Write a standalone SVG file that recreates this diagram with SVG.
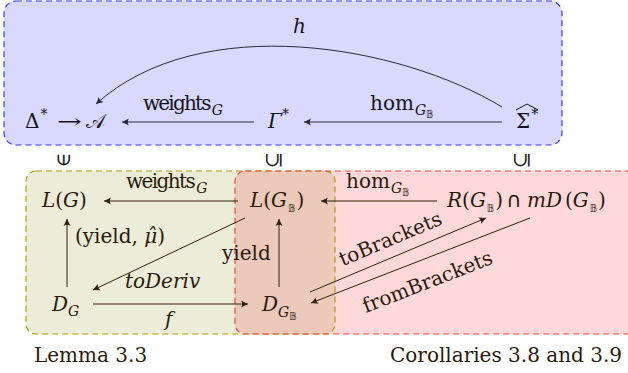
<svg xmlns="http://www.w3.org/2000/svg" width="628" height="373" viewBox="0 0 628 373">
  <style>
    text { font-family: "DejaVu Serif", "DejaVu Sans", serif; font-size: 20px; }
    .top { fill: #141420; }
    .bot { fill: #2a1a0c; }
    .it { font-style: italic; }
    .sub { font-size: 14px; font-style: italic; }
    .bb { font-size: 10px; font-family: "DejaVu Sans", "DejaVu Serif", sans-serif; font-style: normal; }
    .sup { font-size: 14px; font-style: normal; }
    .cap { font-family: "DejaVu Sans", sans-serif; font-size: 21px; }
    .rel { font-family: "DejaVu Sans", sans-serif; font-size: 18px; fill: #222; }
    .edge-top { fill: none; stroke: #2a2a3a; stroke-width: 1; }
    .edge-bot { fill: none; stroke: #33210f; stroke-width: 1; }
  </style>
  <defs>
    <marker id="ah-top" viewBox="-8 -4 9 8" refX="0" refY="0" markerWidth="9" markerHeight="8" markerUnits="userSpaceOnUse" orient="auto">
      <path d="M0,0 L-7,-3.5 Q-4.5,0 -7,3.5 Z" fill="#2a2a3a"/>
    </marker>
    <marker id="ah-bot" viewBox="-8 -4 9 8" refX="0" refY="0" markerWidth="9" markerHeight="8" markerUnits="userSpaceOnUse" orient="auto">
      <path d="M0,0 L-7,-3.5 Q-4.5,0 -7,3.5 Z" fill="#33210f"/>
    </marker>
    <clipPath id="olive-clip">
      <rect x="26" y="171" width="309" height="163" rx="10"/>
    </clipPath>
  </defs>

  <!-- regions -->
  <g id="region-types">
    <rect x="4" y="1" width="558" height="144" rx="12" fill="#d9d9ff" stroke="#3b3bff" stroke-width="1.2" stroke-dasharray="6 4"/>
  </g>
  <g id="region-lemma-fill">
    <rect x="26" y="171" width="309" height="163" rx="10" fill="#ececd9"/>
  </g>
  <g id="region-corollaries-fill">
    <rect x="235" y="171" width="420" height="163" rx="10" fill="#ffd9d9"/>
    <rect x="235" y="171" width="420" height="163" rx="10" fill="#ecc9b9" clip-path="url(#olive-clip)"/>
  </g>
  <g id="region-borders">
    <rect x="26" y="171" width="309" height="163" rx="10" fill="none" stroke="#a89f00" stroke-width="1.2" stroke-dasharray="6 4"/>
    <rect x="235" y="171" width="420" height="163" rx="10" fill="none" stroke="#ff4040" stroke-width="1.2" stroke-dasharray="6 4"/>
  </g>

  <!-- nodes: top row -->
  <g id="node-weightfun" class="top">
    <text x="25" y="128">Δ<tspan class="sup" dx="1" dy="-9">*</tspan></text>
    <text x="57" y="128" font-family="DejaVu Sans" textLength="25" lengthAdjust="spacingAndGlyphs">→</text>
    <text x="86" y="128">𝒜</text>
  </g>
  <g id="node-gamma" class="top">
    <text x="268" y="128" class="it">Γ<tspan class="sup" dy="-9">*</tspan></text>
  </g>
  <g id="node-sigma" class="top">
    <text x="516" y="128">Σ<tspan class="sup" dx="1" dy="-9">*</tspan></text>
    <path d="M516,110 L527,104 L538,110" fill="none" stroke="#141420" stroke-width="1"/>
  </g>

  <!-- nodes: lower part -->
  <g id="node-LG" class="bot">
    <text x="42" y="207"><tspan class="it">L</tspan>(<tspan class="it">G</tspan>)</text>
  </g>
  <g id="node-LGB" class="bot">
    <text x="250" y="207"><tspan class="it">L</tspan>(<tspan class="it">G</tspan><tspan class="bb" dx="1" dy="5">𝔹</tspan><tspan dx="1" dy="-5">)</tspan></text>
  </g>
  <g id="node-R" class="bot">
    <text y="207"><tspan x="447" class="it">R</tspan>(<tspan class="it">G</tspan><tspan class="bb" dx="1" dy="5">𝔹</tspan><tspan dx="1" dy="-5">)</tspan><tspan x="506" class="cap">∩</tspan><tspan x="527" class="it">mD</tspan><tspan x="565">(</tspan><tspan class="it">G</tspan><tspan class="bb" dx="1" dy="5">𝔹</tspan><tspan dx="1" dy="-5">)</tspan></text>
  </g>
  <g id="node-DG" class="bot">
    <text x="52" y="311" class="it">D<tspan class="sub" dy="5">G</tspan></text>
  </g>
  <g id="node-DGB" class="bot">
    <text x="262" y="311" class="it">D<tspan class="sub" dy="6">G</tspan><tspan class="bb" dy="3">𝔹</tspan></text>
  </g>

  <!-- inclusion / membership marks -->
  <g id="relations" class="rel">
    <text x="63" y="160" transform="rotate(-90 63 160)" text-anchor="middle" dominant-baseline="central">∈</text>
    <text x="273" y="160" transform="rotate(-90 273 160)" text-anchor="middle" dominant-baseline="central">⊆</text>
    <text x="521" y="160" transform="rotate(-90 521 160)" text-anchor="middle" dominant-baseline="central">⊆</text>
  </g>

  <!-- connectors -->
  <g id="connectors">
    <path class="edge-top" d="M502,107 C400,45 200,10 96,104" marker-end="url(#ah-top)"/>
    <path class="edge-top" d="M254,122 H122" marker-end="url(#ah-top)"/>
    <path class="edge-top" d="M502,122 H304" marker-end="url(#ah-top)"/>

    <path class="edge-bot" d="M238,201 H104" marker-end="url(#ah-bot)"/>
    <path class="edge-bot" d="M437,201 H321" marker-end="url(#ah-bot)"/>
    <path class="edge-bot" d="M67,287 V219" marker-end="url(#ah-bot)"/>
    <path class="edge-bot" d="M279,287 V219" marker-end="url(#ah-bot)"/>
    <path class="edge-bot" d="M245,218 L93,290" marker-end="url(#ah-bot)"/>
    <path class="edge-bot" d="M93,304 H248" marker-end="url(#ah-bot)"/>
    <path class="edge-bot" d="M310,292 L486,218" marker-end="url(#ah-bot)"/>
    <path class="edge-bot" d="M530,218 L311,303" marker-end="url(#ah-bot)"/>

    <!-- edge labels -->
    <g class="top">
      <text x="293" y="33" class="it">h</text>
      <text x="143" y="110"><tspan letter-spacing="-1.8">weights</tspan><tspan class="sub" dx="2" dy="5">G</tspan></text>
      <text x="370" y="110">hom<tspan class="sub" dx="1" dy="5">G</tspan><tspan class="bb" dy="3">𝔹</tspan></text>
    </g>
    <g class="bot">
      <text x="126" y="188"><tspan letter-spacing="-1.6">weights</tspan><tspan class="sub" dx="2" dy="5">G</tspan></text>
      <text x="346" y="188">hom<tspan class="sub" dx="1" dy="5">G</tspan><tspan class="bb" dy="3">𝔹</tspan></text>
      <text x="75" y="243">(yield, <tspan class="it">μ̂</tspan>)</text>
      <text x="222" y="260">yield</text>
      <text x="125" y="288" class="it">toDeriv</text>
      <text x="165" y="326" class="it">f</text>
      <text x="0" y="0" text-anchor="middle" transform="translate(393 245) rotate(-22.8)">toBrackets</text>
      <text x="0" y="0" text-anchor="middle" transform="translate(430 288) rotate(-21.2)">fromBrackets</text>
    </g>
  </g>

  <!-- captions -->
  <g id="captions" class="bot">
    <text x="34" y="362">Lemma 3.3</text>
    <text x="390" y="362">Corollaries 3.8 and 3.9</text>
  </g>
</svg>
